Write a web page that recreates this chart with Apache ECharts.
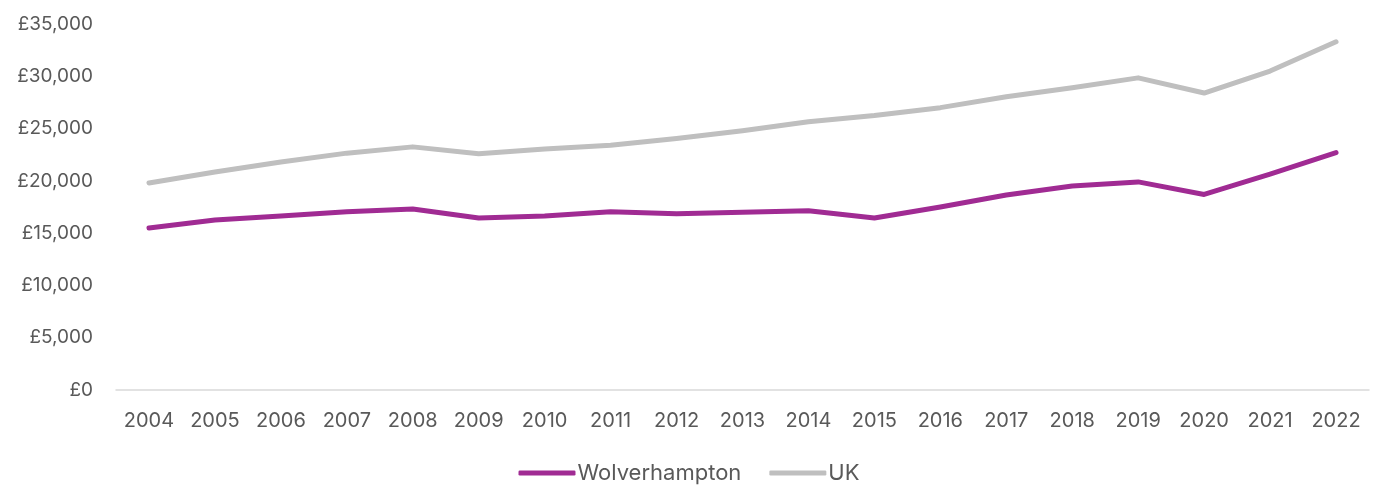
<!DOCTYPE html>
<html><head><meta charset="utf-8">
<script src="https://cdn.jsdelivr.net/npm/echarts@6/dist/echarts.min.js"></script>
<style>html,body{margin:0;padding:0;background:#fff}#c{width:1378px;height:485px}</style>
</head><body><div id="c"></div>
<script>
const years = ['2004','2005','2006','2007','2008','2009','2010','2011','2012','2013','2014','2015','2016','2017','2018','2019','2020','2021','2022'];
const wolverhampton = [15500,16250,16650,17050,17300,16450,16650,17050,16850,17000,17150,16450,17500,18650,19500,19900,18700,20650,22700];
const uk = [19800,20850,21800,22650,23250,22600,23050,23400,24050,24800,25650,26250,27000,28050,28900,29850,28400,30500,33300];
const yTicks = {min:0, max:35000, interval:5000};

const chart = echarts.init(document.getElementById('c'), null, {renderer:'canvas'});
const font = 'Inter, "Noto Sans", sans-serif';
chart.setOption({
  animation:false,
  grid:{left:116, right:9, top:24, bottom:95, containLabel:false},
  legend:{
    top:462, left:'center', padding:0, itemWidth:57, itemHeight:5, itemGap:28,
    icon:'roundRect',
    textStyle:{color:'#595959', fontSize:22, fontFamily:font, padding:[0,0,0,-3]},
    data:['Wolverhampton','UK']
  },
  xAxis:{
    type:'category', data:years, boundaryGap:true,
    axisLine:{lineStyle:{color:'#D9D9D9', width:1.5}},
    axisTick:{show:false},
    axisLabel:{color:'#595959', fontSize:20, fontFamily:font, margin:21}
  },
  yAxis:{
    type:'value', min:yTicks.min, max:yTicks.max, interval:yTicks.interval,
    splitLine:{show:false}, axisLine:{show:false}, axisTick:{show:false},
    axisLabel:{color:'#595959', fontSize:19, fontFamily:font, margin:23,
      formatter:v=>'£'+v.toLocaleString('en-GB')}
  },
  series:[
    {name:'Wolverhampton', type:'line', data:wolverhampton, symbol:'none',
     lineStyle:{color:'#A02B93', width:5, cap:'round', join:'round'}, itemStyle:{color:'#A02B93'}},
    {name:'UK', type:'line', data:uk, symbol:'none',
     lineStyle:{color:'#BFBFBF', width:5, cap:'round', join:'round'}, itemStyle:{color:'#BFBFBF'}}
  ]
});
</script></body></html>
